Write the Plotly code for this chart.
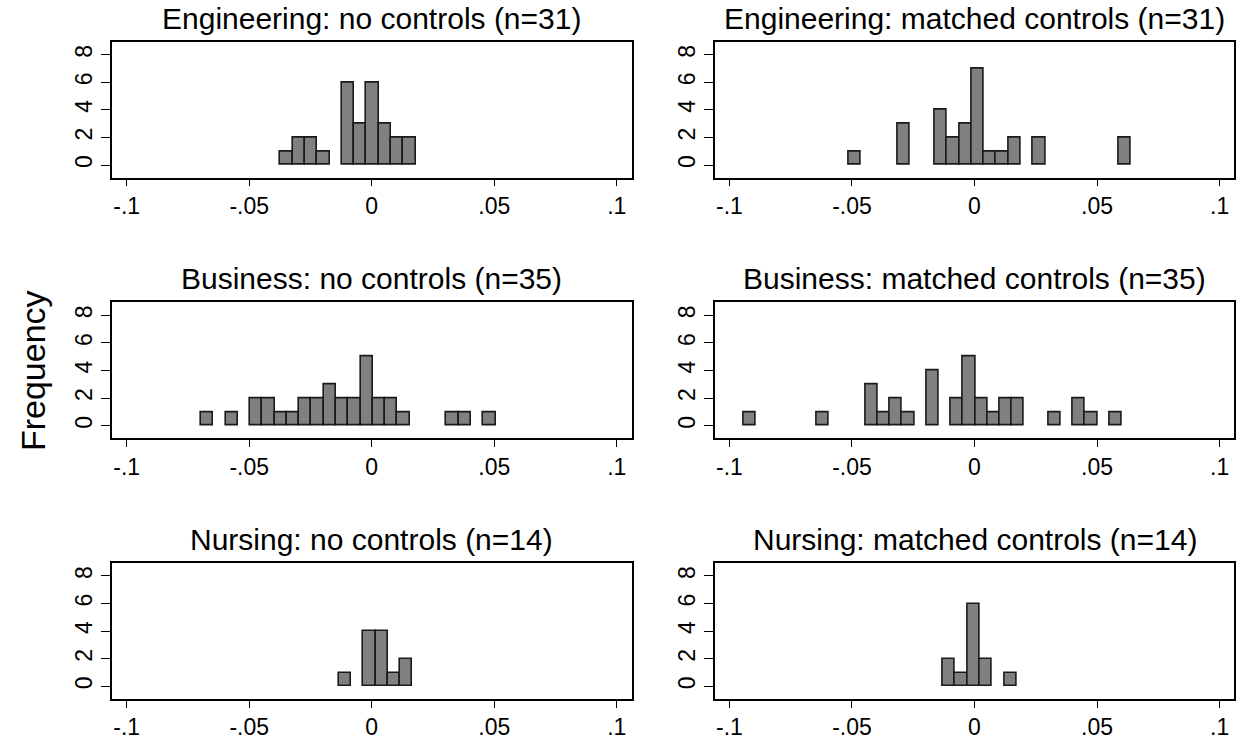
import plotly.graph_objects as go

# ---- data (histogram bins) ----
titles = [
    "Engineering: no controls (n=31)", "Engineering: matched controls (n=31)",
    "Business: no controls (n=35)", "Business: matched controls (n=35)",
    "Nursing: no controls (n=14)", "Nursing: matched controls (n=14)",
]
bin_start = [-0.0373, -0.0513, -0.0697, -0.0943, -0.0135, -0.0130]
bin_width = [0.00502, 0.00501, 0.00501, 0.00498, 0.00501, 0.00503]
eng_none = [1, 2, 2, 1, 0, 6, 3, 6, 3, 2, 2]
eng_matched = [1, 0, 0, 0, 3, 0, 0, 4, 2, 3, 7, 1, 1, 2, 0, 2, 0, 0, 0, 0, 0, 0, 2]
bus_none = [1, 0, 1, 0, 2, 2, 1, 1, 2, 2, 3, 2, 2, 5, 2, 2, 1, 0, 0, 0, 1, 1, 0, 1]
bus_matched = [1, 0, 0, 0, 0, 0, 1, 0, 0, 0, 3, 1, 2, 1, 0, 4, 0, 2, 5, 2, 1, 2, 2,
               0, 0, 1, 0, 2, 1, 0, 1]
nur_none = [1, 0, 4, 4, 1, 2]
nur_matched = [2, 1, 6, 2, 0, 1]
counts = [eng_none, eng_matched, bus_none, bus_matched, nur_none, nur_matched]

x_ticks = [-0.1, -0.05, 0, 0.05, 0.1]
x_ticklabels = ["-.1", "-.05", "0", ".05", ".1"]
y_ticks = [0, 2, 4, 6, 8]

FONT = "Liberation Sans, Arial, sans-serif"
W, H = 1243, 740

col_dom = [[112 / W, 631.5 / W], [714.7 / W, 1234.3 / W]]
row_tops = [41.7, 302.4, 563.0]
row_h = 136.0

fig = go.Figure()
annotations = []
for i in range(6):
    r, c = divmod(i, 2)
    xa = "x" if i == 0 else f"x{i+1}"
    ya = "y" if i == 0 else f"y{i+1}"
    xs, ys = [], []
    for k, v in enumerate(counts[i]):
        if v > 0:
            xs.append(bin_start[i] + (k + 0.5) * bin_width[i])
            ys.append(v)
    fig.add_trace(go.Bar(
        x=xs, y=ys, width=bin_width[i], xaxis=xa, yaxis=ya,
        marker=dict(color="#808080", line=dict(color="#1a1a1a", width=1.6)),
        showlegend=False, hoverinfo="skip",
    ))
    top = row_tops[r]
    bot = top + row_h
    ydom = [1 - bot / H, 1 - top / H]
    axis_common = dict(showline=True, mirror=True, linecolor="black", linewidth=1.5,
                       ticks="outside", tickcolor="black", tickwidth=1.3,
                       showgrid=False, zeroline=False,
                       tickfont=dict(family=FONT, size=23, color="black"))
    key_x = "xaxis" if i == 0 else f"xaxis{i+1}"
    key_y = "yaxis" if i == 0 else f"yaxis{i+1}"
    fig.update_layout({
        key_x: dict(domain=col_dom[c], anchor=ya, range=[-0.106, 0.106],
                    tickvals=x_ticks, ticktext=x_ticklabels, ticklen=7, **axis_common),
        key_y: dict(domain=ydom, anchor=xa, range=[-0.92, 8.94],
                    tickvals=y_ticks, tickangle=-90, ticklen=9, **axis_common),
    })
    annotations.append(dict(
        text=titles[i], xref="paper", yref="paper",
        x=(col_dom[c][0] + col_dom[c][1]) / 2, y=ydom[1],
        xanchor="center", yanchor="bottom", yshift=5, showarrow=False,
        font=dict(family=FONT, size=30, color="black"),
    ))

annotations.append(dict(
    text="Frequency", xref="paper", yref="paper", x=33 / W, y=0.4986,
    xanchor="center", yanchor="middle", textangle=-90, showarrow=False,
    font=dict(family=FONT, size=34, color="black"),
))

fig.update_layout(
    width=W, height=H, margin=dict(l=0, r=0, t=0, b=0),
    paper_bgcolor="white", plot_bgcolor="white", bargap=0,
    annotations=annotations, font=dict(family=FONT),
)
fig.write_html("out.html", config={"displayModeBar": False},
               post_script="document.body.style.margin='0';document.body.style.overflow='hidden';")
